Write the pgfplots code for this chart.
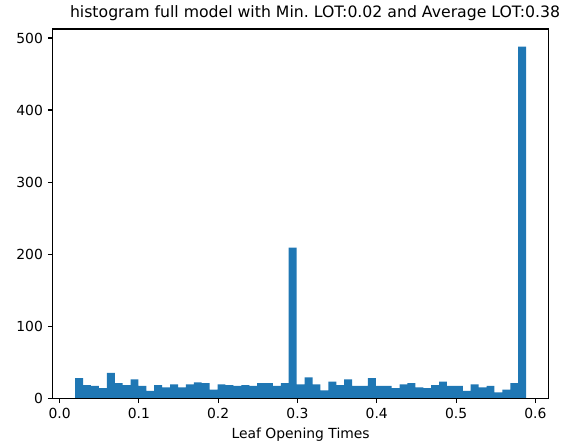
\documentclass[border=0pt]{standalone}
\usepackage{fontspec}
\setmainfont{DejaVu Sans}
\usepackage{pgfplots}
\usepackage{pgfplotstable}
\pgfplotsset{compat=1.18}
\definecolor{c0}{HTML}{1F77B4}

% Histogram of leaf opening times: left bin edge and count (last row closes the final bin)
\pgfplotstableread{
edge    count
0.0197  28
0.0297  18
0.0396  17
0.0496  14
0.0596  35
0.0696  21
0.0795  18
0.0895  26
0.0995  17
0.1095  10
0.1194  18
0.1294  15
0.1394  19
0.1494  15
0.1594  19
0.1693  22
0.1793  21
0.1893  12
0.1993  19
0.2092  18
0.2192  17
0.2292  18
0.2392  17
0.2491  21
0.2591  21
0.2691  17
0.2791  21
0.2890  209
0.2990  19
0.3090  29
0.3190  19
0.3289  11
0.3389  23
0.3489  18
0.3589  26
0.3688  17
0.3788  17
0.3888  28
0.3988  17
0.4087  17
0.4187  14
0.4287  19
0.4387  21
0.4486  15
0.4586  14
0.4686  18
0.4786  23
0.4885  17
0.4985  17
0.5085  10
0.5184  19
0.5284  15
0.5384  17
0.5484  8
0.5584  12
0.5683  21
0.5783  488
0.5883  488
}\lotdata

\begin{document}
\begin{tikzpicture}
\begin{axis}[
  scale only axis,
  width=357pt, height=265.7pt,
  xmin=-0.0087, xmax=0.6167,
  ymin=0, ymax=512.4,
  xtick={0,0.1,0.2,0.3,0.4,0.5,0.6},
  xticklabels={0.0,0.1,0.2,0.3,0.4,0.5,0.6},
  ytick={0,100,200,300,400,500},
  tick align=outside,
  tick pos=left,
  major tick length=3.5pt,
  every tick/.style={black, line width=0.8pt},
  axis line style={black, line width=0.8pt},
  tick label style={font=\fontsize{10}{12}\selectfont},
  /pgf/number format/assume math mode=true,
  title={histogram full model with Min.\ LOT:0.02 and Average LOT:0.38},
  every axis title shift=0pt,
  title style={font=\fontsize{11.3}{13}\selectfont, at={(0.529,1)}, anchor=base, yshift=8pt, inner sep=0pt},
  xlabel={Leaf Opening Times},
  xlabel style={font=\fontsize{10}{12}\selectfont},
  axis on top,
]
% bins drawn as one stepped filled region, so adjacent bars leave no seams
\addplot[const plot mark left, fill=c0, draw=none] table[x=edge, y=count] {\lotdata} \closedcycle;
\end{axis}
\path (current axis.south west) ++(-37.9pt,-33.1pt) coordinate (bl);
\path (current axis.north east) ++(19.7pt,20.9pt) coordinate (tr);
\pgfresetboundingbox
\path[use as bounding box] (bl) rectangle (tr);
\end{tikzpicture}
\end{document}
